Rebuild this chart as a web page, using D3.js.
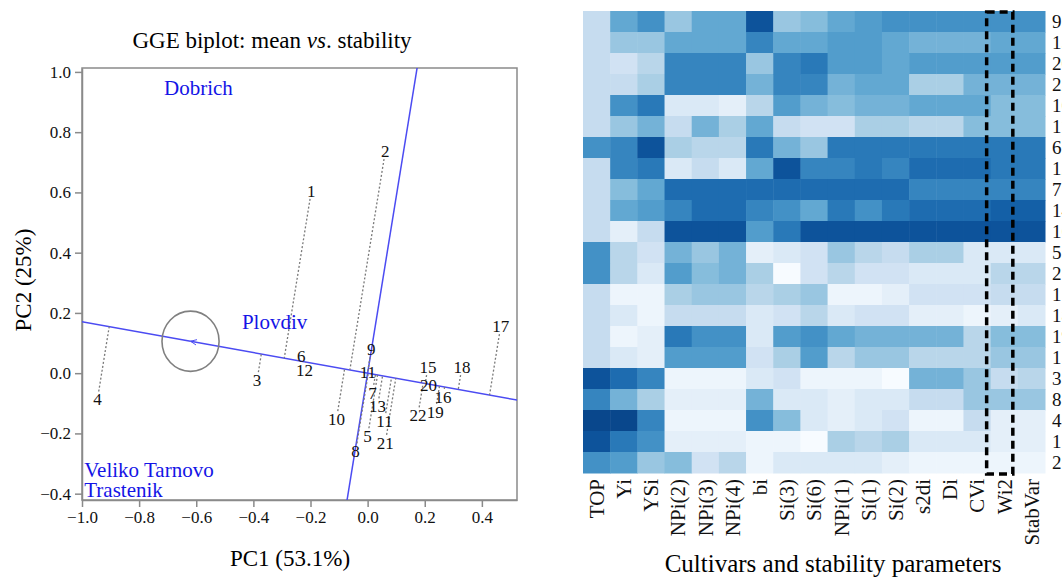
<!DOCTYPE html>
<html>
<head>
<meta charset="utf-8">
<script src="https://cdn.jsdelivr.net/npm/d3@7"></script>
<style>
  body { margin: 0; background: #fff; }
  text { font-family: "Liberation Serif", "Times New Roman", serif; }
</style>
</head>
<body>
<div id="chart"></div>
<script>

// ---- DATA ----
let genoLabels = ["1","2","3","4","5","6","7","8","9","10","11","11","12","13","15","16","17","18","19","20","21","22"];
let genoPC1 = [-0.197, 0.062, -0.387, -0.946, 0.000, -0.232, 0.017, -0.042, 0.013, -0.109, 0.001, 0.059, -0.221, 0.035, 0.211, 0.264, 0.466, 0.330, 0.237, 0.213, 0.062, 0.176];
let genoPC2 = [0.605, 0.737, -0.023, -0.087, -0.209, 0.056, -0.065, -0.259, 0.079, -0.152, 0.003, -0.159, 0.009, -0.110, 0.020, -0.078, 0.156, 0.020, -0.128, -0.041, -0.231, -0.140];

let envLabels = ["Dobrich", "Plovdiv", "Veliko Tarnovo", "Trastenik"];
let envPC1 = [-0.713, -0.440, -0.992, -0.992];
let envPC2 = [0.923, 0.147, -0.345, -0.411];

// average environment coordinate
let aec = [-0.62, 0.106];

let xTicks = [-1.0, -0.8, -0.6, -0.4, -0.2, 0.0, 0.2, 0.4];
let yTicks = [-0.4, -0.2, 0.0, 0.2, 0.4, 0.6, 0.8, 1.0];

let heatCols = ["TOP","Yi","YSi","NPi(2)","NPi(3)","NPi(4)","bi","Si(3)","Si(6)","NPi(1)","Si(1)","Si(2)","s2di","Di","CVi","Wi2","StabVar"];
let heatRows = ["9","13","20","22","10","11","6","12","7","14","16","5","21","17","18","19","15","3","8","4","1","2"];
let heatLevels = [
  [2.5, 5.5, 6.5, 4, 5.5, 5.5, 9, 4, 4.5, 5.5, 6, 6.5, 6.5, 6.5, 6.5, 6.5, 6.5],
  [2.5, 4, 4, 5.5, 5.5, 5.5, 7, 5.5, 5.5, 6, 6, 5.5, 5, 5, 5, 5.5, 5.5],
  [2.5, 2, 3, 7, 7, 7, 4, 7, 7.5, 6, 6, 5.5, 6, 6, 6, 6, 6],
  [2.5, 2.5, 3.5, 7, 7, 7, 5, 7, 7, 5, 5.5, 5.5, 3.5, 3.5, 5, 5, 5],
  [2.5, 6.5, 7.5, 1.5, 1.5, 1, 3, 6, 5, 4.5, 5, 5, 5.5, 5.5, 5.5, 4.5, 4.5],
  [2.5, 4, 5, 2.5, 5, 3.5, 5.5, 2.5, 2, 2, 3.5, 3.5, 3, 3, 4.5, 4.5, 4.5],
  [6.5, 7, 9, 3.5, 3, 3, 7.5, 5, 4, 7.5, 7.5, 7.5, 7.5, 7.5, 7.5, 7.5, 7.5],
  [2.5, 7, 7.5, 1.5, 2.5, 1.5, 5.5, 9, 7, 7, 7.5, 7, 8, 8, 8, 7.5, 7.5],
  [2.5, 4.5, 5.5, 8, 8, 8, 8, 8, 8, 8, 8, 8, 7, 7, 7, 7, 7],
  [2.5, 5.5, 6, 7, 8, 8, 7, 6.5, 5.5, 7.5, 6.5, 7.5, 8, 8, 8, 8.5, 8.5],
  [2.5, 1, 2.5, 9, 9, 9, 6, 7.5, 9, 9, 9, 9, 9, 9, 9, 9, 9],
  [6.5, 3, 2, 5, 4, 5, 1, 1.5, 2, 4, 3, 2.5, 3.5, 3.5, 1.5, 1.5, 1.5],
  [6.5, 3, 1.5, 6, 4.5, 5, 3.5, 0, 2, 3, 2, 2, 1.5, 1.5, 1.5, 3, 3],
  [2.5, 0.5, 0.5, 3.5, 4, 4, 3, 3.5, 4, 0.5, 0.5, 1, 2, 2, 2, 2.5, 2.5],
  [2.5, 1.5, 0.5, 2.5, 2.5, 2.5, 1.5, 2, 3, 1.5, 2, 2, 1, 1, 0.5, 1, 1.5],
  [2.5, 0.5, 1, 7.5, 6.5, 6.5, 1.5, 6, 6.5, 5.5, 5, 5, 5, 5, 3, 4.5, 4.5],
  [2.5, 1.5, 1, 6, 6, 6, 2, 3.5, 6, 3, 4, 4, 3, 3, 3, 4, 4],
  [9, 8, 7, 0.5, 0.5, 0.5, 1.5, 2, 0.5, 0.5, 0.5, 0, 5, 5, 4, 2.5, 3],
  [7, 5, 3.5, 1, 1, 1, 5, 1.5, 1.5, 1, 1.5, 1.5, 2.5, 2.5, 4, 4, 4],
  [9.5, 9.5, 7, 0.5, 0.5, 0.5, 6.5, 4.5, 1.5, 1, 1.5, 2, 0.5, 0.5, 2.5, 1, 1],
  [9, 7.5, 6.5, 1, 1, 1, 0.5, 0.5, 0, 3.5, 3, 3.5, 1.5, 1.5, 1.5, 1, 1],
  [6.5, 6, 4, 4.5, 2, 3, 0.5, 1.5, 1.5, 1.5, 1.5, 1, 0.5, 0.5, 0.5, 0.5, 0.5]
];
let boxedCol = "Wi2";


// ---- SVG ----
let W = 1062, H = 578;
let svg = d3.select("#chart").append("svg")
    .attr("width", W)
    .attr("height", H)
    .style("display", "block");

svg.append("rect").attr("width", W).attr("height", H).attr("fill", "#fff");


/*************************/
/*   LEFT: GGE BIPLOT    */
/*************************/

let plot = {left: 82, right: 517, top: 68, bottom: 500};

let x = d3.scaleLinear()
    .domain([-1.0, 0.523])
    .range([plot.left, plot.right]);

let y = d3.scaleLinear()
    .domain([-0.421, 1.013])
    .range([plot.bottom, plot.top]);

let axisGrey = "#8a8a8a";
let lineBlue = "#4b4bf2";

svg.append("defs").append("clipPath")
    .attr("id", "plotClip")
    .append("rect")
    .attr("x", plot.left).attr("y", plot.top)
    .attr("width", plot.right - plot.left)
    .attr("height", plot.bottom - plot.top);

svg.select("defs").append("marker")
    .attr("id", "arrow")
    .attr("viewBox", "0 -5 10 10")
    .attr("refX", 9).attr("refY", 0)
    .attr("markerWidth", 7).attr("markerHeight", 7)
    .attr("markerUnits", "userSpaceOnUse")
    .attr("orient", "auto")
    .append("path")
    .attr("d", "M0,-4L9,0L0,4")
    .attr("fill", "none")
    .attr("stroke", lineBlue)
    .attr("stroke-width", 1.3);

// title
svg.append("text")
    .attr("x", 272).attr("y", 48)
    .attr("text-anchor", "middle")
    .attr("font-size", 23)
    .html('GGE biplot: mean <tspan font-style="italic">vs</tspan>. stability');

// AXIS
let xAxis = d3.axisBottom(x)
    .tickValues(xTicks)
    .tickFormat(d3.format(".1f"))
    .tickSize(7)
    .tickSizeOuter(0)
    .tickPadding(4);

let yAxis = d3.axisLeft(y)
    .tickValues(yTicks)
    .tickFormat(d3.format(".1f"))
    .tickSize(7)
    .tickSizeOuter(0)
    .tickPadding(4);

let xAxisGroup = svg.append("g")
    .attr("transform", "translate(0," + plot.bottom + ")")
    .call(xAxis);

let yAxisGroup = svg.append("g")
    .attr("transform", "translate(" + plot.left + ",0)")
    .call(yAxis);

[xAxisGroup, yAxisGroup].forEach(g => {
    g.selectAll("path, line").attr("stroke", axisGrey).attr("stroke-width", 1.5);
    g.selectAll("text")
        .attr("font-family", "Liberation Serif, serif")
        .attr("font-size", 17)
        .attr("fill", "#111");
});

// frame
svg.append("rect")
    .attr("x", plot.left).attr("y", plot.top)
    .attr("width", plot.right - plot.left)
    .attr("height", plot.bottom - plot.top)
    .attr("fill", "none")
    .attr("stroke", axisGrey)
    .attr("stroke-width", 1.5);

// axis labels
svg.append("text")
    .attr("x", 290).attr("y", 566)
    .attr("text-anchor", "middle")
    .attr("font-size", 23)
    .text("PC1 (53.1%)");

svg.append("text")
    .attr("transform", "translate(31,280) rotate(-90)")
    .attr("text-anchor", "middle")
    .attr("font-size", 23)
    .text("PC2 (25%)");

let inner = svg.append("g").attr("clip-path", "url(#plotClip)");

// ATC abscissa and ordinate (through origin)
let slopeA = aec[1] / aec[0];
let slopeO = -aec[0] / aec[1];

inner.append("line")
    .attr("x1", x(-1.2)).attr("y1", y(slopeA * -1.2))
    .attr("x2", x(aec[0])).attr("y2", y(aec[1]))
    .attr("stroke", lineBlue).attr("stroke-width", 1.5);

inner.append("line")
    .attr("x1", x(0.7)).attr("y1", y(slopeA * 0.7))
    .attr("x2", x(aec[0])).attr("y2", y(aec[1]))
    .attr("stroke", lineBlue).attr("stroke-width", 1.5)
    .attr("marker-end", "url(#arrow)");

inner.append("line")
    .attr("x1", x(-0.6 / slopeO)).attr("y1", y(-0.6))
    .attr("x2", x(1.2 / slopeO)).attr("y2", y(1.2))
    .attr("stroke", lineBlue).attr("stroke-width", 1.5);

// circle round the average environment
inner.append("ellipse")
    .attr("cx", x(aec[0])).attr("cy", y(aec[1]))
    .attr("rx", x(0.1) - x(0))
    .attr("ry", y(0) - y(0.1))
    .attr("fill", "none")
    .attr("stroke", "#808080")
    .attr("stroke-width", 1.6);

// genotypes
let geno = genoLabels.map((g, i) => ({label: g, pc1: genoPC1[i], pc2: genoPC2[i]}));
let norm = Math.hypot(aec[0], aec[1]);
let ux = aec[0] / norm, uy = aec[1] / norm;

// ---- DOTTED PROJECTIONS ----
inner.selectAll(".proj")
    .data(geno)
    .enter()
    .append("line")
    .attr("class", "proj")
    .each(function (d) {
        let t = d.pc1 * ux + d.pc2 * uy;
        let px = x(d.pc1), py = y(d.pc2);
        let qx = x(t * ux), qy = y(t * uy);
        let len = Math.hypot(qx - px, qy - py);
        let off = Math.min(8, len);
        d3.select(this)
            .attr("x1", px + (qx - px) / len * off)
            .attr("y1", py + (qy - py) / len * off)
            .attr("x2", qx).attr("y2", qy);
    })
    .attr("stroke", "#7a7a7a")
    .attr("stroke-width", 1.3)
    .attr("stroke-dasharray", "2,2");

inner.selectAll(".geno")
    .data(geno)
    .enter()
    .append("text")
    .attr("class", "geno")
    .attr("x", d => x(d.pc1))
    .attr("y", d => y(d.pc2))
    .attr("dy", "0.35em")
    .attr("text-anchor", "middle")
    .attr("font-size", 17)
    .attr("fill", "#111")
    .text(d => d.label);

// environments
inner.selectAll(".env")
    .data(envLabels)
    .enter()
    .append("text")
    .attr("class", "env")
    .attr("x", (d, i) => x(envPC1[i]))
    .attr("y", (d, i) => y(envPC2[i]))
    .attr("font-size", 21)
    .attr("fill", "#1414e6")
    .text(d => d);


/*************************/
/*   RIGHT: HEATMAP      */
/*************************/

let hm = {left: 583, right: 1045, top: 11, bottom: 473};

let hx = d3.scaleBand()
    .domain(heatCols)
    .range([hm.left, hm.right]);

let hy = d3.scaleBand()
    .domain(heatRows)
    .range([hm.top, hm.bottom]);

let color = d3.scaleSequential(d3.interpolateBlues).domain([0, 10.4]);

let cells = [];
heatRows.forEach((r, i) => heatCols.forEach((c, j) => cells.push({row: r, col: c, v: heatLevels[i][j]})));

svg.append("g").selectAll("rect")
    .data(cells)
    .enter()
    .append("rect")
    .attr("x", d => hx(d.col))
    .attr("y", d => hy(d.row))
    .attr("width", hx.bandwidth() + 0.5)
    .attr("height", hy.bandwidth() + 0.5)
    .attr("fill", d => color(d.v));

// column labels
let colAxis = svg.append("g")
    .attr("transform", "translate(0," + hm.bottom + ")")
    .call(d3.axisBottom(hx).tickSize(0).tickPadding(0));
colAxis.select(".domain").remove();
colAxis.selectAll("text")
    .attr("font-family", "Liberation Serif, serif")
    .attr("font-size", 21)
    .attr("fill", "#111")
    .attr("transform", "rotate(-90)")
    .attr("text-anchor", "end")
    .attr("x", -6)
    .attr("y", 0)
    .attr("dy", "0.35em");

// row labels
let rowAxis = svg.append("g")
    .attr("transform", "translate(" + hm.right + ",0)")
    .call(d3.axisRight(hy).tickSize(0).tickPadding(7));
rowAxis.select(".domain").remove();
rowAxis.selectAll("text")
    .attr("font-family", "Liberation Serif, serif")
    .attr("font-size", 19)
    .attr("fill", "#111");

// dashed box round Wi2
svg.append("rect")
    .attr("x", hx(boxedCol) - 4)
    .attr("y", hm.top + 1)
    .attr("width", hx.bandwidth() - 1)
    .attr("height", hm.bottom - hm.top)
    .attr("fill", "none")
    .attr("stroke", "#000")
    .attr("stroke-width", 3.5)
    .attr("stroke-dasharray", "8,5");

svg.append("text")
    .attr("x", 833).attr("y", 572)
    .attr("text-anchor", "middle")
    .attr("font-size", 25)
    .text("Cultivars and stability parameters");

</script>
</body>
</html>
